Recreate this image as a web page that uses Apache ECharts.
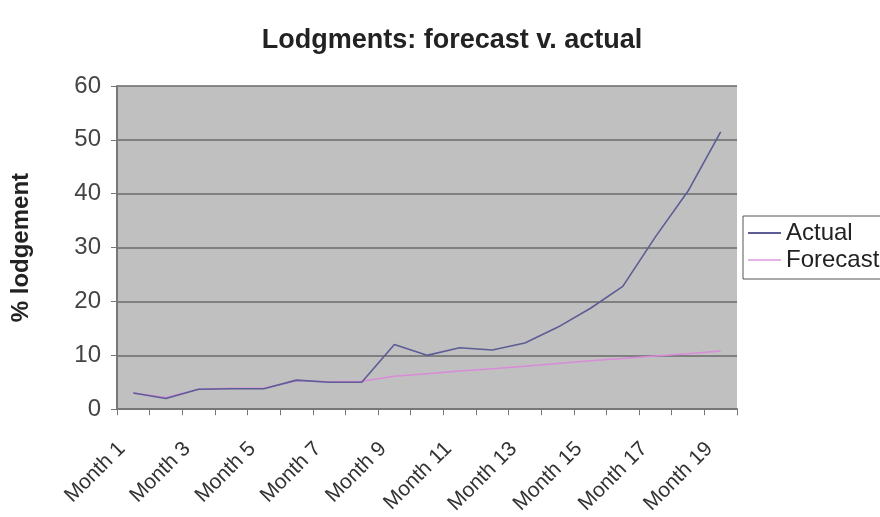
<!DOCTYPE html>
<html>
<head>
<meta charset="utf-8">
<script src="https://cdn.jsdelivr.net/npm/echarts@6/dist/echarts.min.js"></script>
<style>
  html, body { margin: 0; padding: 0; background: #fff; }
  #chart { width: 880px; height: 517px; }
</style>
</head>
<body>
<div id="chart"></div>
<script>
const months = Array.from({ length: 19 }, (_, i) => 'Month ' + (i + 1))
const actual = [3, 2, 3.7, 3.8, 3.8, 5.4, 5, 5, 12, 10, 11.4, 11, 12.3, 15.2, 18.7, 22.8, 32, 40.5, 51.5]
const forecast = [3, 2.2, 3.7, 3.9, 3.9, 5.3, 5.1, 5.2, 6.1, 6.6, 7.1, 7.5, 8, 8.5, 9, 9.4, 9.9, 10.3, 10.8]
const yTicks = { min: 0, max: 60, step: 10 }

const font = 'Liberation Sans, Arial, sans-serif'
const chart = echarts.init(document.getElementById('chart'))

chart.setOption({
  animation: false,
  textStyle: { fontFamily: font },
  title: {
    text: 'Lodgments: forecast v. actual',
    left: 447,
    textAlign: 'center',
    top: 22,
    textStyle: { fontSize: 27, fontWeight: 'bold', color: '#222', fontFamily: font },
  },
  legend: {
    orient: 'vertical',
    left: 743,
    top: 216,
    padding: [5, 20, 7, 5],
    itemGap: 3,
    itemWidth: 33,
    itemHeight: 2,
    borderColor: '#555',
    borderWidth: 1,
    icon: 'rect',
    data: ['Actual', 'Forecast'],
    textStyle: { fontSize: 24, color: '#222', padding: [0, 0, 0, 0] },
  },
  grid: {
    left: 117,
    right: 143,
    top: 86,
    bottom: 107,
    show: true,
    backgroundColor: '#c0c0c0',
    borderWidth: 0,
  },
  xAxis: {
    type: 'category',
    data: months,
    boundaryGap: true,
    axisLine: { lineStyle: { color: '#777', width: 2 } },
    axisTick: { show: true, interval: 0, length: 6, lineStyle: { color: '#777' } },
    axisLabel: {
      interval: 1,
      rotate: 45,
      fontSize: 21,
      color: '#333',
      margin: 25,
      padding: [0, 16, 0, 0],
    },
  },
  yAxis: {
    type: 'value',
    min: yTicks.min,
    max: yTicks.max,
    interval: yTicks.step,
    name: '% lodgement',
    nameLocation: 'middle',
    nameRotate: 90,
    nameGap: 84,
    nameTextStyle: { fontSize: 24, fontWeight: 'bold', color: '#222' },
    axisLine: { show: true, lineStyle: { color: '#777', width: 2 } },
    axisTick: { show: true, length: 6, lineStyle: { color: '#777' } },
    axisLabel: { fontSize: 24, color: '#444', margin: 16 },
    splitLine: { lineStyle: { color: '#6a6a6a', width: 1.5 } },
  },
  series: [
    {
      name: 'Forecast',
      type: 'line',
      data: forecast,
      showSymbol: false,
      z: 2,
      lineStyle: { color: '#d98ad9', width: 1.5 },
      itemStyle: { color: '#e6b3e6' },
    },
    {
      name: 'Actual',
      type: 'line',
      data: actual,
      showSymbol: false,
      z: 3,
      lineStyle: { color: '#5c5c96', width: 1.6 },
      itemStyle: { color: '#5c5c96' },
    },
  ],
})
</script>
</body>
</html>
